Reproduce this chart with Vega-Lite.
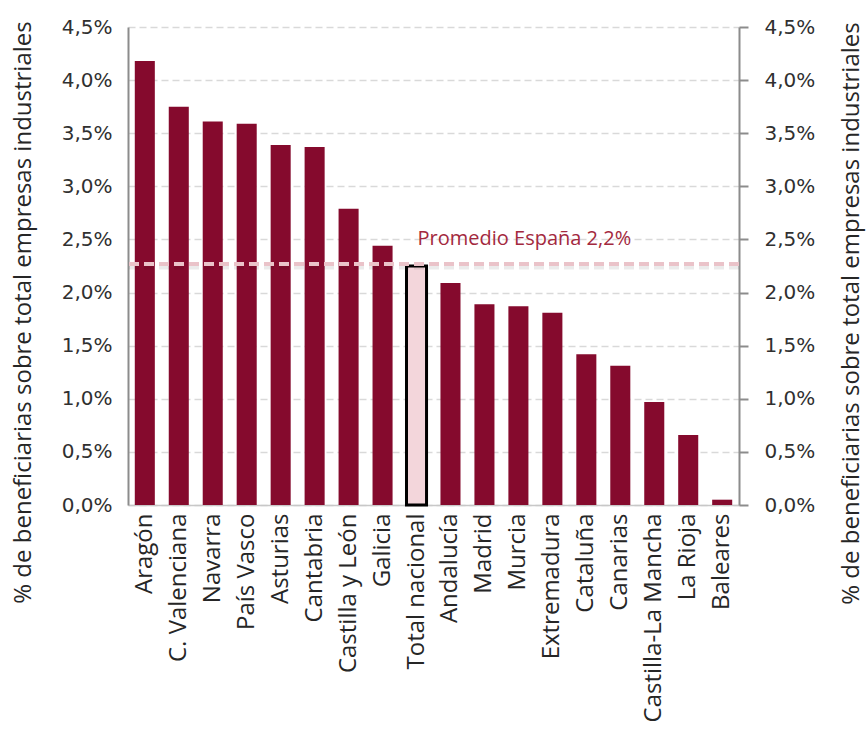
{
  "$schema": "https://vega.github.io/schema/vega-lite/v6.json",
  "width": 611,
  "height": 478,
  "autosize": {"type": "none"},
  "padding": {"left": 128, "top": 27, "right": 128, "bottom": 226},
  "background": "white",
  "config": {"view": {"stroke": null}},
  "datasets": {
    "regiones": [
      {"region": "Aragón", "valor": 4.18},
      {"region": "C. Valenciana", "valor": 3.75},
      {"region": "Navarra", "valor": 3.61},
      {"region": "País Vasco", "valor": 3.59},
      {"region": "Asturias", "valor": 3.39},
      {"region": "Cantabria", "valor": 3.37},
      {"region": "Castilla y León", "valor": 2.79},
      {"region": "Galicia", "valor": 2.44},
      {"region": "Total nacional", "valor": 2.25},
      {"region": "Andalucía", "valor": 2.09},
      {"region": "Madrid", "valor": 1.89},
      {"region": "Murcia", "valor": 1.87},
      {"region": "Extremadura", "valor": 1.81},
      {"region": "Cataluña", "valor": 1.42},
      {"region": "Canarias", "valor": 1.31},
      {"region": "Castilla-La Mancha", "valor": 0.97},
      {"region": "La Rioja", "valor": 0.66},
      {"region": "Baleares", "valor": 0.05}
    ],
    "promedio": [{"p": 2.27, "sombra": 2.25}],
    "etiqueta": [{"region": "Total nacional", "valor": 2.45, "texto": "Promedio España 2,2%"}]
  },
  "layer": [
    {
      "data": {"name": "regiones"},
      "mark": {"type": "bar"},
      "encoding": {
        "x": {
          "field": "region", "type": "nominal", "sort": null,
          "scale": {
            "domain": ["Aragón", "C. Valenciana", "Navarra", "País Vasco", "Asturias", "Cantabria", "Castilla y León", "Galicia", "Total nacional", "Andalucía", "Madrid", "Murcia", "Extremadura", "Cataluña", "Canarias", "Castilla-La Mancha", "La Rioja", "Baleares"],
            "paddingInner": 0.41, "paddingOuter": 0.2
          },
          "axis": {
            "title": null, "labelAngle": -90, "labelAlign": "right", "labelBaseline": "middle",
            "labelFont": "Open Sans", "labelFontSize": 24, "labelColor": "#262626",
            "labelPadding": 8, "ticks": false, "domainColor": "#c8c8c8", "domainWidth": 1.5,
            "labelOverlap": false, "labelLimit": 0
          }
        },
        "y": {
          "field": "valor", "type": "quantitative",
          "scale": {"domain": [0, 4.5], "nice": false},
          "axis": {
            "orient": "left", "title": "% de beneficiarias sobre total empresas industriales",
            "values": [0, 0.5, 1, 1.5, 2, 2.5, 3, 3.5, 4, 4.5],
            "labelExpr": "replace(format(datum.value, '.1f'), '.', ',') + '%'",
            "labelFont": "DejaVu Sans", "labelFontSize": 20, "labelColor": "#303030",
            "labelPadding": 16, "ticks": false,
            "domainColor": "#8c8c8c", "domainWidth": 2,
            "grid": true, "gridColor": "#d9d9d9", "gridDash": [7, 4], "gridWidth": 1.5,
            "titleFont": "Open Sans", "titleFontSize": 24, "titleFontWeight": "normal", "titleColor": "#262626",
            "titleAngle": -90, "titleX": -105, "titleY": 285, "titleAlign": "center", "titleBaseline": "middle"
          }
        },
        "color": {"condition": {"test": "datum.region === 'Total nacional'", "value": "#f3d6db"}, "value": "#850a2d"},
        "stroke": {"condition": {"test": "datum.region === 'Total nacional'", "value": "#000000"}, "value": null},
        "strokeWidth": {"condition": {"test": "datum.region === 'Total nacional'", "value": 3}, "value": 0}
      }
    },
    {
      "data": {"name": "promedio"},
      "mark": {"type": "rule", "color": "#000000", "opacity": 0.08, "strokeWidth": 7, "strokeDash": [10, 5]},
      "encoding": {
        "y": {"field": "sombra", "type": "quantitative", "scale": {"domain": [0, 4.5], "nice": false}, "axis": null}
      }
    },
    {
      "data": {"name": "promedio"},
      "mark": {"type": "rule", "color": "#eac3c9", "strokeWidth": 4, "strokeDash": [10, 5]},
      "encoding": {
        "y": {
          "field": "p", "type": "quantitative",
          "scale": {"domain": [0, 4.5], "nice": false},
          "axis": {
            "orient": "right", "title": "% de beneficiarias sobre total empresas industriales",
            "values": [0, 0.5, 1, 1.5, 2, 2.5, 3, 3.5, 4, 4.5],
            "labelExpr": "replace(format(datum.value, '.1f'), '.', ',') + '%'",
            "labelFont": "DejaVu Sans", "labelFontSize": 20, "labelColor": "#303030",
            "labelPadding": 16, "ticks": true, "tickSize": 9, "tickColor": "#8c8c8c", "tickWidth": 2,
            "domainColor": "#8c8c8c", "domainWidth": 2, "grid": false,
            "titleFont": "Open Sans", "titleFontSize": 24, "titleFontWeight": "normal", "titleColor": "#262626",
            "titleAngle": -90, "titleX": 112, "titleY": 286, "titleAlign": "center", "titleBaseline": "middle"
          }
        }
      }
    },
    {
      "data": {"name": "etiqueta"},
      "mark": {"type": "text", "align": "left", "baseline": "alphabetic", "dx": 1, "font": "Open Sans", "fontSize": 20, "color": "#a3293e"},
      "encoding": {
        "x": {"field": "region", "type": "nominal", "sort": null},
        "y": {"field": "valor", "type": "quantitative", "scale": {"domain": [0, 4.5], "nice": false}, "axis": null},
        "text": {"field": "texto"}
      }
    }
  ],
  "resolve": {"axis": {"y": "independent"}}
}
